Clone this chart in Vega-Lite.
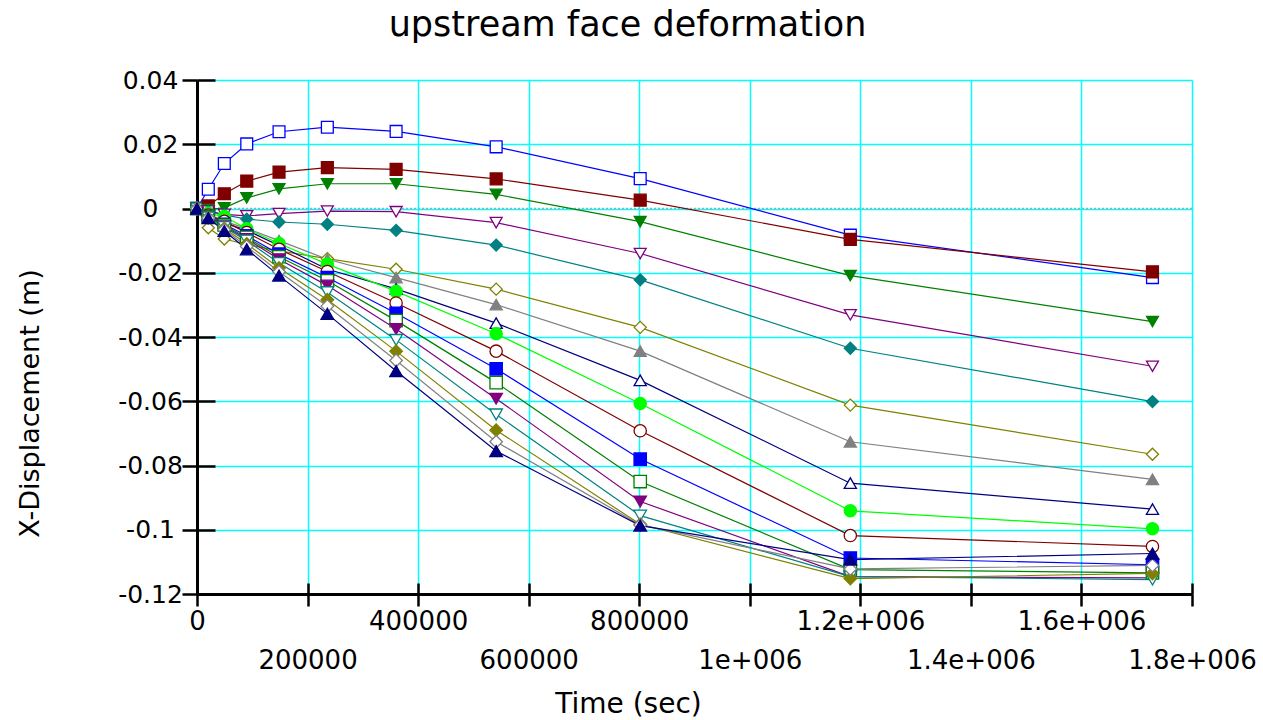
{
  "$schema": "https://vega.github.io/schema/vega-lite/v6.json",
  "width": 995,
  "height": 514,
  "autosize": {"type": "none"},
  "padding": {"left": 197, "top": 80, "right": 71, "bottom": 126},
  "background": "white",
  "title": {
    "text": "upstream face deformation",
    "anchor": "middle",
    "dx": -67,
    "offset": -3,
    "baseline": "alphabetic",
    "font": "DejaVu Sans",
    "fontSize": 35,
    "fontWeight": "normal",
    "color": "black"
  },
  "config": {"view": {"stroke": null}},
  "resolve": {"axis": {"x": "independent", "y": "independent"}},
  "data": {
    "values": [
      {"t": 0, "s01": 0, "s02": 0, "s03": 0, "s04": 0, "s05": 0, "s06": 0, "s07": 0, "s08": 0, "s09": 0, "s10": 0, "s11": 0, "s12": 0, "s13": 0, "s14": 0, "s15": 0, "s16": 0, "s17": 0},
      {"t": 20450, "s01": 0.006, "s02": 0.0008, "s03": -0.0003, "s04": -0.0008, "s05": -0.001, "s06": -0.006, "s07": -0.002, "s08": -0.002, "s09": -0.0015, "s10": -0.002, "s11": -0.0025, "s12": -0.0025, "s13": -0.0027, "s14": -0.0028, "s15": -0.0029, "s16": -0.003, "s17": -0.003},
      {"t": 49400, "s01": 0.014, "s02": 0.0046, "s03": 0.0002, "s04": -0.0018, "s05": -0.002, "s06": -0.0095, "s07": -0.004, "s08": -0.0045, "s09": -0.0025, "s10": -0.004, "s11": -0.0049, "s12": -0.0052, "s13": -0.0055, "s14": -0.0058, "s15": -0.0062, "s16": -0.0066, "s17": -0.007},
      {"t": 90000, "s01": 0.0201, "s02": 0.0085, "s03": 0.0033, "s04": -0.0023, "s05": -0.0033, "s06": -0.0112, "s07": -0.0062, "s08": -0.0068, "s09": -0.0063, "s10": -0.0075, "s11": -0.0085, "s12": -0.009, "s13": -0.0095, "s14": -0.01, "s15": -0.011, "s16": -0.0118, "s17": -0.0127},
      {"t": 148400, "s01": 0.0239, "s02": 0.0113, "s03": 0.0061, "s04": -0.0016, "s05": -0.0042, "s06": -0.0132, "s07": -0.01, "s08": -0.0115, "s09": -0.0109, "s10": -0.0127, "s11": -0.0142, "s12": -0.015, "s13": -0.0158, "s14": -0.017, "s15": -0.0185, "s16": -0.0197, "s17": -0.0209},
      {"t": 235800, "s01": 0.0253, "s02": 0.0127, "s03": 0.0077, "s04": -0.0008, "s05": -0.0049, "s06": -0.0156, "s07": -0.0158, "s08": -0.0189, "s09": -0.0173, "s10": -0.0196, "s11": -0.0215, "s12": -0.0225, "s13": -0.024, "s14": -0.0261, "s15": -0.0284, "s16": -0.0304, "s17": -0.0328},
      {"t": 360200, "s01": 0.024, "s02": 0.0122, "s03": 0.0077, "s04": -0.001, "s05": -0.0068, "s06": -0.0189, "s07": -0.0215, "s08": -0.025, "s09": -0.0258, "s10": -0.0294, "s11": -0.0326, "s12": -0.0349, "s13": -0.0375, "s14": -0.0409, "s15": -0.0444, "s16": -0.0473, "s17": -0.0506},
      {"t": 541200, "s01": 0.0192, "s02": 0.0092, "s03": 0.0044, "s04": -0.0044, "s05": -0.0114, "s06": -0.0251, "s07": -0.0299, "s08": -0.0357, "s09": -0.039, "s10": -0.0444, "s11": -0.0499, "s12": -0.0542, "s13": -0.0592, "s14": -0.0641, "s15": -0.069, "s16": -0.0726, "s17": -0.0755},
      {"t": 801800, "s01": 0.0093, "s02": 0.0026, "s03": -0.0041, "s04": -0.014, "s05": -0.0222, "s06": -0.037, "s07": -0.0444, "s08": -0.0535, "s09": -0.0607, "s10": -0.0692, "s11": -0.078, "s12": -0.085, "s13": -0.0912, "s14": -0.0956, "s15": -0.0983, "s16": -0.0985, "s17": -0.0987},
      {"t": 1181900, "s01": -0.0083, "s02": -0.0096, "s03": -0.0209, "s04": -0.0331, "s05": -0.0435, "s06": -0.0612, "s07": -0.0726, "s08": -0.0855, "s09": -0.0941, "s10": -0.1018, "s11": -0.1088, "s12": -0.1124, "s13": -0.1146, "s14": -0.1146, "s15": -0.1152, "s16": -0.1122, "s17": -0.1093},
      {"t": 1728500, "s01": -0.0215, "s02": -0.0197, "s03": -0.0352, "s04": -0.0491, "s05": -0.0601, "s06": -0.0765, "s07": -0.0843, "s08": -0.0936, "s09": -0.0997, "s10": -0.1052, "s11": -0.1109, "s12": -0.1134, "s13": -0.115, "s14": -0.1155, "s15": -0.1136, "s16": -0.1111, "s17": -0.1074}
    ]
  },
  "transform": [
    {"fold": ["s01", "s02", "s03", "s04", "s05", "s06", "s07", "s08", "s09", "s10", "s11", "s12", "s13", "s14", "s15", "s16", "s17"], "as": ["series", "disp"]}
  ],
  "layer": [
    {
      "data": {"values": [{}]},
      "mark": {"type": "rule", "stroke": "#a8a8a8", "strokeDash": [2, 2], "strokeWidth": 1.5},
      "encoding": {"y": {"datum": 0, "type": "quantitative", "axis": null}}
    },
    {
      "mark": {"type": "line", "strokeWidth": 1.2},
      "encoding": {
        "x": {
          "field": "t",
          "type": "quantitative",
          "scale": {"domain": [0, 1800000], "nice": false, "zero": false},
          "axis": {
            "orient": "bottom",
            "values": [0, 200000, 400000, 600000, 800000, 1000000, 1200000, 1400000, 1600000, 1800000],
            "grid": true,
            "gridColor": "#00FFFF",
            "gridWidth": 1.5,
            "gridOpacity": 1,
            "domainColor": "black",
            "domainWidth": 3,
            "tickColor": "black",
            "tickWidth": 2.5,
            "tickSize": 12,
            "labelFont": "DejaVu Sans",
            "labelFontSize": 26,
            "labelColor": "black",
            "labelPadding": 2,
            "labelLineHeight": 39,
            "labelOverlap": false,
            "labelBound": false,
            "labelFlush": false,
            "labelBaseline": "top",
            "labelExpr": "datum.value % 400000 == 0 ? (datum.value < 1000000 ? '' + datum.value : (datum.value / 1000000) + 'e+006') : ['', datum.value < 1000000 ? '' + datum.value : (datum.value / 1000000) + 'e+006']",
            "title": "Time (sec)",
            "titleFont": "DejaVu Sans",
            "titleFontSize": 28,
            "titleFontWeight": "normal",
            "titleColor": "black",
            "titleX": 431,
            "titleY": 110,
            "titleAlign": "center",
            "titleBaseline": "middle"
          }
        },
        "y": {
          "field": "disp",
          "type": "quantitative",
          "scale": {"domain": [-0.12, 0.04], "nice": false, "zero": false},
          "axis": {
            "orient": "left",
            "values": [-0.12, -0.1, -0.08, -0.06, -0.04, -0.02, 0, 0.02, 0.04],
            "grid": true,
            "gridColor": "#00FFFF",
            "gridWidth": 1.5,
            "gridOpacity": 1,
            "domainColor": "black",
            "domainWidth": 3,
            "tickColor": "black",
            "tickWidth": 2.5,
            "tickSize": 15,
            "labelFont": "DejaVu Sans",
            "labelFontSize": 25,
            "labelColor": "black",
            "labelPadding": 32,
            "labelAlign": "center",
            "labelBaseline": "middle",
            "labelOverlap": false,
            "labelBound": false,
            "labelFlush": false,
            "labelExpr": "'' + datum.value",
            "title": "X-Displacement (m)",
            "titleFont": "DejaVu Sans",
            "titleFontSize": 27,
            "titleFontWeight": "normal",
            "titleColor": "black",
            "titleX": -167,
            "titleY": 323,
            "titleAlign": "center",
            "titleBaseline": "middle"
          }
        },
        "color": {
          "field": "series",
          "type": "nominal",
          "legend": null,
          "scale": {
            "domain": ["s01", "s02", "s03", "s04", "s05", "s06", "s07", "s08", "s09", "s10", "s11", "s12", "s13", "s14", "s15", "s16", "s17"],
            "range": ["#0000FF", "#800000", "#008000", "#800080", "#008080", "#808000", "#808080", "#000080", "#00FF00", "#800000", "#0000FF", "#008000", "#800080", "#008080", "#808000", "#808080", "#000080"]
          }
        }
      }
    },
    {
      "mark": {"type": "point", "opacity": 1, "fillOpacity": 1, "strokeWidth": 1.3},
      "encoding": {
        "x": {
          "field": "t",
          "type": "quantitative",
          "axis": {
            "orient": "bottom",
            "values": [0, 200000, 400000, 600000, 800000, 1000000, 1200000, 1400000, 1600000, 1800000],
            "offset": -11,
            "tickSize": 11,
            "tickColor": "black",
            "tickWidth": 2.5,
            "grid": false,
            "domain": false,
            "labels": false,
            "title": null
          }
        },
        "y": {
          "field": "disp",
          "type": "quantitative",
          "axis": {
            "orient": "left",
            "values": [-0.12, -0.1, -0.08, -0.06, -0.04, -0.02, 0, 0.02, 0.04],
            "offset": -18,
            "tickSize": 18,
            "tickColor": "black",
            "tickWidth": 2.5,
            "grid": false,
            "domain": false,
            "labels": false,
            "title": null
          }
        },
        "stroke": {
          "field": "series",
          "type": "nominal",
          "legend": null,
          "scale": {
            "domain": ["s01", "s02", "s03", "s04", "s05", "s06", "s07", "s08", "s09", "s10", "s11", "s12", "s13", "s14", "s15", "s16", "s17"],
            "range": ["#0000FF", "#800000", "#008000", "#800080", "#008080", "#808000", "#808080", "#000080", "#00FF00", "#800000", "#0000FF", "#008000", "#800080", "#008080", "#808000", "#808080", "#000080"]
          }
        },
        "fill": {
          "field": "series",
          "type": "nominal",
          "legend": null,
          "scale": {
            "domain": ["s01", "s02", "s03", "s04", "s05", "s06", "s07", "s08", "s09", "s10", "s11", "s12", "s13", "s14", "s15", "s16", "s17"],
            "range": ["#FFFFFF", "#800000", "#008000", "#FFFFFF", "#008080", "#FFFFFF", "#808080", "#FFFFFF", "#00FF00", "#FFFFFF", "#0000FF", "#FFFFFF", "#800080", "#FFFFFF", "#808000", "#FFFFFF", "#000080"]
          }
        },
        "shape": {
          "field": "series",
          "type": "nominal",
          "legend": null,
          "scale": {
            "domain": ["s01", "s02", "s03", "s04", "s05", "s06", "s07", "s08", "s09", "s10", "s11", "s12", "s13", "s14", "s15", "s16", "s17"],
            "range": ["square", "square", "triangle-down", "triangle-down", "diamond", "diamond", "triangle-up", "triangle-up", "circle", "circle", "square", "square", "triangle-down", "triangle-down", "diamond", "diamond", "triangle-up"]
          }
        },
        "size": {
          "field": "series",
          "type": "nominal",
          "legend": null,
          "scale": {
            "domain": ["s01", "s02", "s03", "s04", "s05", "s06", "s07", "s08", "s09", "s10", "s11", "s12", "s13", "s14", "s15", "s16", "s17"],
            "range": [140, 160, 160, 140, 140, 120, 160, 140, 70, 60, 160, 140, 160, 140, 140, 120, 160]
          }
        }
      }
    }
  ]
}
